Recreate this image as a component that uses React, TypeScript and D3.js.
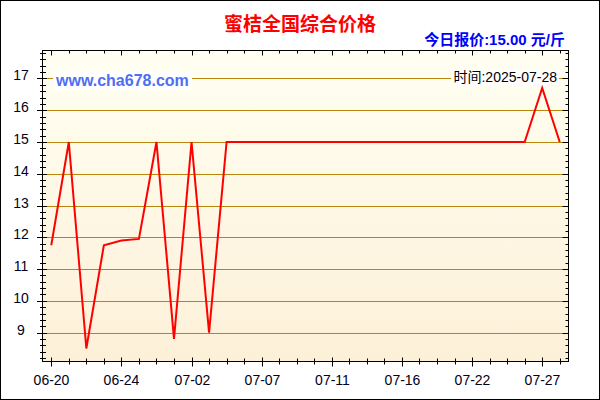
import * as d3 from 'd3';

const dates = [
  '06-20', '06-21', '06-22', '06-23', '06-24', '06-26', '06-28', '06-30',
  '07-02', '07-03', '07-05', '07-06', '07-07', '07-08', '07-09', '07-10',
  '07-11', '07-12', '07-14', '07-15', '07-16', '07-18', '07-19', '07-21',
  '07-22', '07-23', '07-25', '07-26', '07-27', '07-28',
];

const prices = [
  11.75, 15, 8.5, 11.75, 11.9, 11.95, 15, 8.8,
  15, 9.0, 15, 15, 15, 15, 15, 15,
  15, 15, 15, 15, 15, 15, 15, 15,
  15, 15, 15, 15, 16.7, 15,
];

const yTicks = [9, 10, 11, 12, 13, 14, 15, 16, 17];

const title = '蜜桔全国综合价格';
const todayText = '今日报价:15.00 元/斤';
const siteText = 'www.cha678.com';
const timeText = '时间:2025-07-28';

const W = 600;
const H = 400;
const plot = { left: 42.5, right: 568.5, top: 50.5, bottom: 361.5 };
const font = "'Liberation Sans', Arial, 'Noto Sans CJK SC', sans-serif";

export default function App() {
  const x = d3.scaleLinear().domain([-0.5, dates.length - 0.5]).range([plot.left, plot.right]);
  const y = d3.scaleLinear().domain([8.09, 17.88]).range([plot.bottom, plot.top]);

  const line = d3.line<number>()
    .x((_, i) => x(i))
    .y(d => y(d));

  const minorY = d3.range(8.2, 17.9, 0.2).filter(v => Math.abs(v - Math.round(v)) > 0.01);
  const idx = d3.range(dates.length);

  return (
    <svg width={W} height={H} style={{ position: 'absolute', left: 0, top: 0 }} fontFamily={font}>
      <defs>
        <linearGradient id="bg" x1="0" y1="0" x2="0" y2="1">
          <stop offset="0%" stopColor="#fffff2" />
          <stop offset="100%" stopColor="#fdf0d8" />
        </linearGradient>
      </defs>
      <rect x={0} y={0} width={W} height={H} fill="#fff" />
      <rect x={0.5} y={0.5} width={W - 1} height={H - 1} fill="none" stroke="#000" />

      <text x={300} y={31} textAnchor="middle" fontSize={19} fontWeight="bold" fill="#ff0000">{title}</text>
      <text x={565} y={45} textAnchor="end" fontSize={15} fontWeight="bold" fill="#0000ff">{todayText}</text>

      <rect x={plot.left} y={plot.top} width={plot.right - plot.left} height={plot.bottom - plot.top} fill="url(#bg)" />

      {yTicks.map(v => (
        <line key={'g' + v} x1={plot.left} x2={plot.right} y1={Math.round(y(v)) + 0.5} y2={Math.round(y(v)) + 0.5}
          stroke="#b8860b" strokeWidth={1} />
      ))}

      {/* y ticks left and right */}
      {minorY.map(v => {
        const yy = Math.round(y(v)) + 0.5;
        return (
          <g key={'my' + v.toFixed(1)}>
            <line x1={40} x2={46} y1={yy} y2={yy} stroke="#000" />
            <line x1={plot.right - 3} x2={plot.right} y1={yy} y2={yy} stroke="#000" />
          </g>
        );
      })}
      {yTicks.map(v => {
        const yy = Math.round(y(v)) + 0.5;
        return (
          <g key={'ty' + v}>
            <line x1={37} x2={47} y1={yy} y2={yy} stroke="#000" />
            <line x1={plot.right - 6} x2={plot.right} y1={yy} y2={yy} stroke="#000" />
            <text x={21} y={yy + 1.5} textAnchor="middle" fontSize={14} fill="#000020">{v}</text>
          </g>
        );
      })}

      {/* x ticks top and bottom */}
      {idx.map(i => {
        const xx = Math.round(x(i)) + 0.5;
        const major = i % 4 === 0;
        return (
          <g key={'tx' + i}>
            <line x1={xx} x2={xx} y1={plot.top} y2={plot.top + (major ? 5 : 3)} stroke="#000" />
            <line x1={xx} x2={xx} y1={plot.bottom - (major ? 4 : 3)} y2={plot.bottom + (major ? 5 : 3)} stroke="#000" />
            {major && (
              <text x={xx} y={385} textAnchor="middle" fontSize={14} fill="#000020">{dates[i]}</text>
            )}
          </g>
        );
      })}

      <rect x={plot.left} y={plot.top} width={plot.right - plot.left} height={plot.bottom - plot.top}
        fill="none" stroke="#000" />

      <rect x={53} y={72} width={139} height={18} fill="#fff" />
      <text x={56} y={86} fontSize={16} fontWeight="bold" fill="#4f6ef2">{siteText}</text>

      <path d={line(prices) ?? ''} fill="none" stroke="#ff0000" strokeWidth={2} strokeLinejoin="miter" />

      <rect x={451} y={70} width={108} height={15} fill="#fff" />
      <text x={557} y={82} textAnchor="end" fontSize={14} fill="#000">{timeText}</text>
    </svg>
  );
}
